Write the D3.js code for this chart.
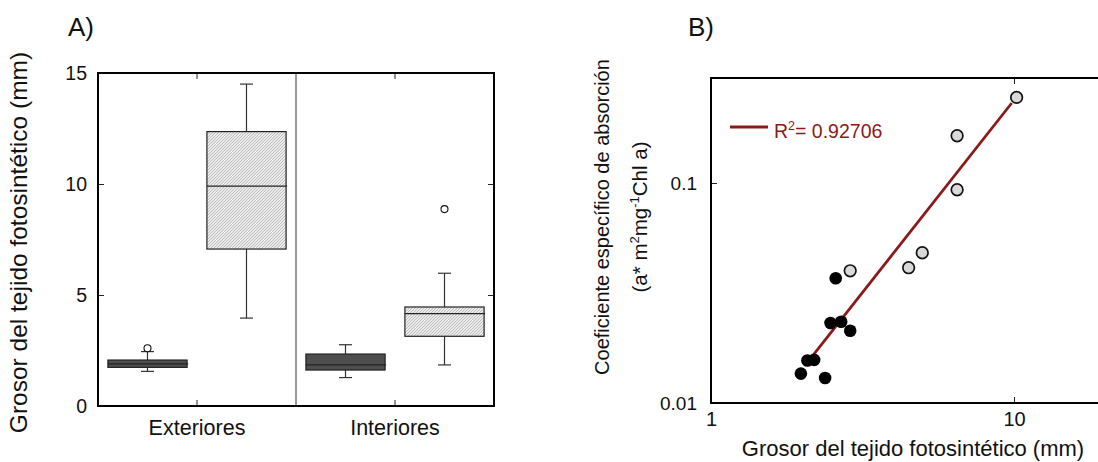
<!DOCTYPE html>
<html>
<head>
<meta charset="utf-8">
<script src="https://cdn.jsdelivr.net/npm/d3@7"></script>
<style>
  html, body { margin: 0; padding: 0; background: #fff; }
  svg { display: block; font-family: "Liberation Sans", Arial, sans-serif; }
</style>
</head>
<body>
<svg id="fig" width="1098" height="462"></svg>
<script>
// ---- Panel A: box plots of photosynthetic tissue thickness ----
const categories = ["Exteriores", "Interiores"];
const boxCategory = ["Exteriores", "Exteriores", "Interiores", "Interiores"];
const boxSeries = [0, 1, 0, 1];            // 0 = dark box, 1 = hatched box
const whiskerLow = [1.56, 3.96, 1.28, 1.85];
const q1 = [1.74, 7.07, 1.62, 3.14];
const median = [1.90, 9.90, 1.85, 4.16];
const q3 = [2.07, 12.36, 2.34, 4.46];
const whiskerHigh = [2.45, 14.50, 2.76, 5.98];
const outliers = [[2.6], [], [], [8.87]];
const yTicksA = [0, 5, 10, 15];

// ---- Panel B: absorption coefficient vs thickness (log-log) ----
const thicknessLight = [10.2, 6.49, 6.49, 4.98, 4.49, 2.88];
const absorptionLight = [0.245, 0.164, 0.0932, 0.0482, 0.0412, 0.0399];
const thicknessDark = [2.58, 2.48, 2.69, 2.88, 2.08, 2.19, 1.98, 2.38];
const absorptionDark = [0.0369, 0.0231, 0.0234, 0.0213, 0.0156, 0.0157, 0.0136, 0.0130];
const fitX = [2.18, 9.83];
const fitY = [0.0166, 0.231];
const r2Label = "0.92706";
const xTicksB = [1, 10];
const yTicksB = [0.01, 0.1];

const svg = d3.select("#fig");
const FONT = "\"Liberation Sans\", Arial, sans-serif";
const fitColor = "#8b1a1a";

// fine hatch pattern for the light boxes
const defs = svg.append("defs");
const pat = defs.append("pattern")
  .attr("id", "hatch").attr("patternUnits", "userSpaceOnUse")
  .attr("width", 3).attr("height", 3);
pat.append("rect").attr("width", 3).attr("height", 3).attr("fill", "#ebebeb");
pat.append("path").attr("d", "M0,3 L3,0 M-1,1 L1,-1 M2,4 L4,2")
  .attr("stroke", "#aaaaaa").attr("stroke-width", 0.7);

// ================= Panel A =================
const A = { left: 98, right: 494, top: 73, bottom: 406 };
const xA = d3.scaleBand().domain(categories).range([A.left, A.right]).padding(0);
const subA = d3.scaleBand().domain([0, 1]).range([0, xA.bandwidth()]);
const yA = d3.scaleLinear().domain([0, 15]).range([A.bottom, A.top]);
const boxW = subA.bandwidth() * 0.8;
const capW = 13;

const gA = svg.append("g");

// divider between the two groups
gA.append("line")
  .attr("x1", A.left + (A.right - A.left) / 2).attr("x2", A.left + (A.right - A.left) / 2)
  .attr("y1", A.top).attr("y2", A.bottom)
  .attr("stroke", "#777").attr("stroke-width", 1.5);

// axes with inward ticks
const axLeftA = d3.axisLeft(yA).tickValues(yTicksA).tickSizeInner(-6).tickSizeOuter(0).tickPadding(11);
const gyA = gA.append("g").attr("transform", `translate(${A.left},0)`).call(axLeftA);
gyA.select(".domain").remove();
gyA.selectAll("text").attr("font-size", 19.5).attr("font-family", FONT).attr("fill", "#111");

const axRightA = d3.axisRight(yA).tickValues([5, 10]).tickSizeInner(-6).tickSizeOuter(0).tickFormat("");
const gyA2 = gA.append("g").attr("transform", `translate(${A.right},0)`).call(axRightA);
gyA2.select(".domain").remove();

const axBottomA = d3.axisBottom(xA).tickSizeInner(-6).tickSizeOuter(0).tickPadding(14);
const gxA = gA.append("g").attr("transform", `translate(0,${A.bottom})`).call(axBottomA);
gxA.select(".domain").remove();
gxA.selectAll("text").attr("font-size", 21.5).attr("font-family", FONT).attr("fill", "#111");

const axTopA = d3.axisTop(xA).tickSizeInner(-6).tickSizeOuter(0).tickFormat("");
const gxA2 = gA.append("g").attr("transform", `translate(0,${A.top})`).call(axTopA);
gxA2.select(".domain").remove();

gA.selectAll(".tick line").attr("stroke", "#222").attr("stroke-width", 1);

// boxes
const boxes = boxCategory.map((c, i) => ({
  cx: xA(c) + subA(boxSeries[i]) + subA.bandwidth() / 2,
  s: boxSeries[i], lo: whiskerLow[i], q1: q1[i], med: median[i],
  q3: q3[i], hi: whiskerHigh[i], out: outliers[i]
}));

const bg = gA.selectAll("g.box").data(boxes).enter().append("g").attr("class", "box");
// whiskers
bg.append("line").attr("x1", d => d.cx).attr("x2", d => d.cx)
  .attr("y1", d => yA(d.q3)).attr("y2", d => yA(d.hi)).attr("stroke", "#333").attr("stroke-width", 1.2);
bg.append("line").attr("x1", d => d.cx).attr("x2", d => d.cx)
  .attr("y1", d => yA(d.q1)).attr("y2", d => yA(d.lo)).attr("stroke", "#333").attr("stroke-width", 1.2);
bg.append("line").attr("x1", d => d.cx - capW / 2).attr("x2", d => d.cx + capW / 2)
  .attr("y1", d => yA(d.hi)).attr("y2", d => yA(d.hi)).attr("stroke", "#333").attr("stroke-width", 1.2);
bg.append("line").attr("x1", d => d.cx - capW / 2).attr("x2", d => d.cx + capW / 2)
  .attr("y1", d => yA(d.lo)).attr("y2", d => yA(d.lo)).attr("stroke", "#333").attr("stroke-width", 1.2);
// box body
bg.append("rect")
  .attr("x", d => d.cx - boxW / 2).attr("width", boxW)
  .attr("y", d => yA(d.q3)).attr("height", d => yA(d.q1) - yA(d.q3))
  .attr("fill", d => d.s === 0 ? "#4e4e4e" : "url(#hatch)")
  .attr("stroke", "#222").attr("stroke-width", 1.2);
// median
bg.append("line").attr("x1", d => d.cx - boxW / 2).attr("x2", d => d.cx + boxW / 2 + 1)
  .attr("y1", d => yA(d.med)).attr("y2", d => yA(d.med))
  .attr("stroke", "#222").attr("stroke-width", 1.2);
// outliers
bg.selectAll("circle").data(d => d.out.map(v => ({ cx: d.cx, v }))).enter().append("circle")
  .attr("cx", d => d.cx).attr("cy", d => yA(d.v)).attr("r", 3.5)
  .attr("fill", "#fff").attr("stroke", "#111").attr("stroke-width", 1.1);

// frame
gA.append("rect").attr("x", A.left).attr("y", A.top)
  .attr("width", A.right - A.left).attr("height", A.bottom - A.top)
  .attr("fill", "none").attr("stroke", "#000").attr("stroke-width", 2);

// titles
svg.append("text").attr("x", 68).attr("y", 36).attr("font-size", 26)
  .attr("font-family", FONT).attr("fill", "#111").text("A)");
svg.append("text")
  .attr("transform", `translate(27,${(A.top + A.bottom) / 2 + 3}) rotate(-90)`)
  .attr("text-anchor", "middle").attr("font-size", 24.5).attr("font-family", FONT).attr("fill", "#111")
  .text("Grosor del tejido fotosintético (mm)");

// ================= Panel B =================
const B = { left: 711, top: 78, bottom: 403 };
const xB = d3.scaleLog().domain([1, 20]).range([B.left, B.left + 303 * Math.log10(20)]);
const yB = d3.scaleLog().domain([0.01, 0.3]).range([B.bottom, B.bottom - 220 * Math.log10(30)]);
const gB = svg.append("g");

const axLeftB = d3.axisLeft(yB).tickValues(yTicksB).tickSizeInner(-6).tickSizeOuter(0)
  .tickPadding(14).tickFormat(d => d === 0.1 ? "0.1" : "0.01");
const gyB = gB.append("g").attr("transform", `translate(${B.left},0)`).call(axLeftB);
gyB.select(".domain").remove();
gyB.selectAll("text").attr("font-size", 19).attr("font-family", FONT).attr("fill", "#111");

const axBottomB = d3.axisBottom(xB).tickValues(xTicksB).tickSizeInner(-6).tickSizeOuter(0)
  .tickPadding(9).tickFormat(d3.format("d"));
const gxB = gB.append("g").attr("transform", `translate(0,${B.bottom})`).call(axBottomB);
gxB.select(".domain").remove();
gxB.selectAll("text").attr("font-size", 20).attr("font-family", FONT).attr("fill", "#111");

const axTopB = d3.axisTop(xB).tickValues([10]).tickSizeInner(-6).tickSizeOuter(0).tickFormat("");
const gxB2 = gB.append("g").attr("transform", `translate(0,${B.top})`).call(axTopB);
gxB2.select(".domain").remove();
gB.selectAll(".tick line").attr("stroke", "#222").attr("stroke-width", 1);

// frame (runs off the right edge)
const frameRight = xB(20);
gB.append("path")
  .attr("d", `M${frameRight},${B.top} H${B.left} V${B.bottom} H${frameRight}`)
  .attr("fill", "none").attr("stroke", "#000").attr("stroke-width", 2);

// fitted line
gB.append("line")
  .attr("x1", xB(fitX[0])).attr("y1", yB(fitY[0]))
  .attr("x2", xB(fitX[1])).attr("y2", yB(fitY[1]))
  .attr("stroke", fitColor).attr("stroke-width", 2.8);

// points
gB.selectAll("circle.light").data(thicknessLight.map((t, i) => [t, absorptionLight[i]]))
  .enter().append("circle").attr("class", "light")
  .attr("cx", d => xB(d[0])).attr("cy", d => yB(d[1])).attr("r", 5.8)
  .attr("fill", "#d9d9d9").attr("stroke", "#111").attr("stroke-width", 1.7);
gB.selectAll("circle.dark").data(thicknessDark.map((t, i) => [t, absorptionDark[i]]))
  .enter().append("circle").attr("class", "dark")
  .attr("cx", d => xB(d[0])).attr("cy", d => yB(d[1])).attr("r", 6.3)
  .attr("fill", "#000");

// legend
gB.append("line").attr("x1", 730).attr("x2", 768).attr("y1", 127).attr("y2", 127)
  .attr("stroke", fitColor).attr("stroke-width", 3);
const leg = gB.append("text").attr("x", 774).attr("y", 138)
  .attr("font-size", 19.5).attr("font-family", FONT).attr("fill", fitColor);
leg.append("tspan").text("R");
leg.append("tspan").attr("font-size", 12.5).attr("dy", -8).text("2");
leg.append("tspan").attr("dy", 8).text("= " + r2Label);

// titles
svg.append("text").attr("x", 688).attr("y", 36).attr("font-size", 26)
  .attr("font-family", FONT).attr("fill", "#111").text("B)");
svg.append("text").attr("x", 913).attr("y", 456).attr("text-anchor", "middle")
  .attr("font-size", 22).attr("font-family", FONT).attr("fill", "#111")
  .text("Grosor del tejido fotosintético (mm)");

const yTitle = svg.append("g").attr("transform", "translate(0,217)");
yTitle.append("text").attr("transform", "translate(609,0) rotate(-90)")
  .attr("text-anchor", "middle").attr("font-size", 20).attr("font-family", FONT).attr("fill", "#111")
  .text("Coeficiente específico de absorción");
const t2 = yTitle.append("text").attr("transform", "translate(647,0) rotate(-90)")
  .attr("text-anchor", "middle").attr("font-size", 20.5).attr("font-family", FONT).attr("fill", "#111");
t2.append("tspan").text("(a* m");
t2.append("tspan").attr("font-size", 13).attr("dy", -8).text("2");
t2.append("tspan").attr("dy", 8).text("mg");
t2.append("tspan").attr("font-size", 13).attr("dy", -8).text("-1");
t2.append("tspan").attr("dy", 8).text("Chl a)");
</script>
</body>
</html>
